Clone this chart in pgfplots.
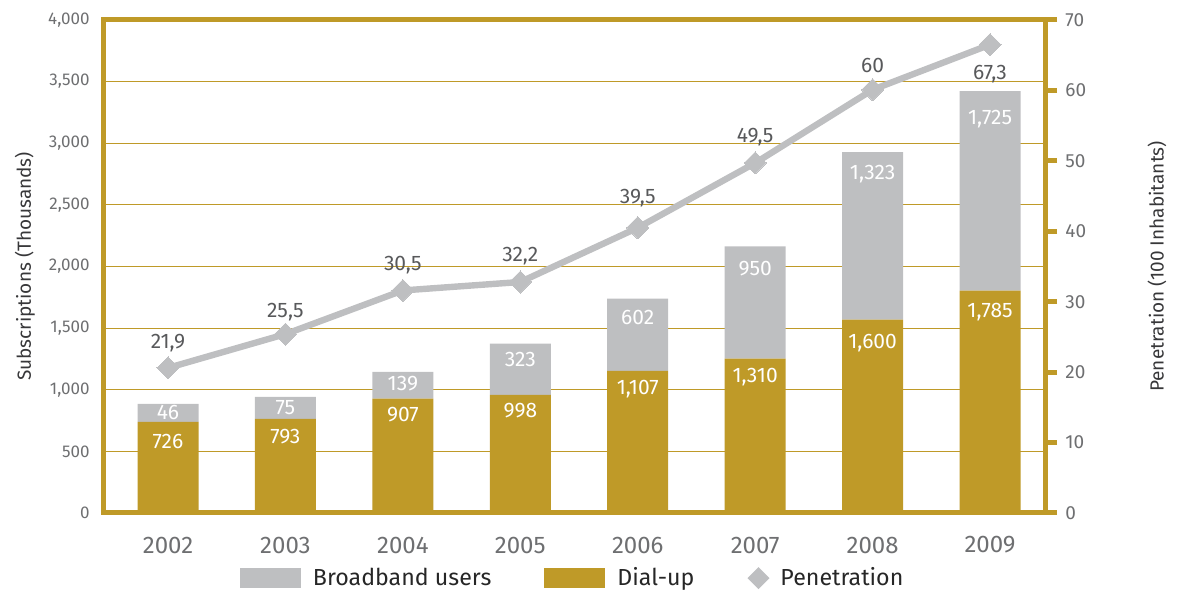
\documentclass[border=0pt]{standalone}
\usepackage{pgfplots}
\pgfplotsset{compat=1.18}
\usepackage{pgfplotstable}
\usepackage{fontspec}
\setmainfont{Fira Sans}
\definecolor{gold}{RGB}{191,154,40}
\definecolor{bbgray}{RGB}{190,191,193}
\definecolor{tickgray}{RGB}{110,111,113}
\definecolor{labgray}{RGB}{88,89,91}
\definecolor{titlegray}{RGB}{55,55,57}

\pgfplotstableread{
x dial bb dlab blab dy by
0 740 146 726 46 577 813
1 764 179 793 75 618 854
2 927 219 907 139 797 1049
3 959 415 998 323 829 1244
4 1154 586 1,107 602 1008 1585
5 1252 911 1,310 950 1106 1984
6 1569 1358 1,600 1,323 1382 2748
7 1805 1618 1,785 1,725 1626 3195
}\bars

\pgfplotstableread{
x pen plab ly
0 20.6 21,9 24.1
1 25.4 25,5 28.5
2 31.6 30,5 35.2
3 32.8 32,2 36.5
4 40.5 39,5 44.7
5 49.7 49,5 53.4
6 60.1 60 63.6
7 66.5 67,3 62.3
}\pen

\pgfplotsset{
  base/.style={
    width=470.5pt, height=246.5pt, scale only axis,
    xmin=-0.545, xmax=7.468,
    /pgf/number format/assume math mode=true,
    /pgf/number format/1000 sep={,},
  }
}

\begin{document}
\begin{tikzpicture}
\path[use as bounding box] (-52pt,-40pt) rectangle (539pt,256.5pt);

% ---- bars, grid, frame ----
\begin{axis}[base, at={(0,0)}, anchor=south west,
  ymin=0, ymax=4000,
  ytick={0,500,...,4000},
  xtick={0,...,7},
  xticklabels={2002,2003,2004,2005,2006,2007,2008,2009},
  ybar stacked, bar width=30.5pt,
  axis line style={gold, line width=2.5pt},
  tick style={draw=none},
  ymajorgrids, grid style={gold, line width=0.6pt},
  yticklabel style={font=\fontsize{8.5}{10}\selectfont, text=tickgray, anchor=east, inner sep=0pt, xshift=-7pt},
  xticklabel style={font=\fontsize{12}{14}\selectfont, text=tickgray, anchor=center, inner sep=0pt, yshift=-16pt},
  ylabel={Subscriptions (Thousands)},
  ylabel style={at={(axis description cs:-0.084,0.5)}, anchor=center, font=\fontsize{9.5}{11}\selectfont, text=titlegray},
  legend columns=3,
  legend style={at={(axis description cs:0.497,-0.132)}, anchor=center, draw=none, fill=none,
    font=\fontsize{11.6}{13}\selectfont, text=black!85,
    inner sep=0pt, column sep=0pt,
    nodes={inner sep=0pt},
    /tikz/every even column/.append style={column sep=26.5pt}},
]
\addplot[fill=gold, draw=none, forget plot] table[x=x, y=dial] {\bars};
\addplot[fill=bbgray, draw=none, forget plot] table[x=x, y=bb] {\bars};
\addlegendimage{legend image code/.code={\fill[bbgray, draw=none] (0pt,-5pt) rectangle (30.5pt,5pt); \path[draw=none, fill=none] (0pt,0pt) -- (36.5pt,0pt);}}
\addlegendentry{Broadband users}
\addlegendimage{legend image code/.code={\fill[gold, draw=none] (0pt,-5pt) rectangle (30.5pt,5pt); \path[draw=none, fill=none] (0pt,0pt) -- (36.5pt,0pt);}}
\addlegendentry{Dial-up}
\addlegendimage{legend image code/.code={\fill[bbgray, draw=none, rotate=45] (-3.9pt,-3.9pt) rectangle (3.9pt,3.9pt); \path[draw=none, fill=none] (-5.5pt,0pt) -- (11pt,0pt);}}
\addlegendentry{Penetration}
\end{axis}

% ---- right axis: penetration ----
\begin{axis}[base, at={(0,0)}, anchor=south west,
  ymin=0, ymax=70, ytick={0,10,...,70},
  axis y line*=right, axis x line=none,
  axis line style={gold, line width=2.5pt},
  tick align=outside, major tick length=6pt,
  tick style={gold, line width=2.5pt},
  yticklabel style={font=\fontsize{9.5}{11}\selectfont, text=tickgray, anchor=west, inner sep=0pt, xshift=4pt},
  ylabel={Penetration (100 Inhabitants)},
  ylabel style={at={(axis description cs:1.119,0.5)}, anchor=center, font=\fontsize{9.5}{11}\selectfont, text=titlegray},
]
\addplot[color=bbgray, line width=3.2pt, mark=square*, mark size=3.9pt,
  mark options={rotate=45, fill=bbgray, draw=bbgray, line width=0pt}] table[x=x, y=pen] {\pen};
\addplot[draw=none, nodes near coords, point meta=explicit symbolic,
  every node near coord/.append style={anchor=center, inner sep=0pt, font=\fontsize{10.5}{12}\selectfont, text=labgray}]
  table[x=x, y=ly, meta=plab] {\pen};
\end{axis}

% ---- bar value labels ----
\begin{axis}[base, at={(0,0)}, anchor=south west, hide axis, ymin=0, ymax=4000]
\addplot[draw=none, nodes near coords, point meta=explicit symbolic,
  every node near coord/.append style={anchor=center, inner sep=0pt, font=\fontsize{10.5}{12}\selectfont, text=white}]
  table[x=x, y=dy, meta=dlab] {\bars};
\addplot[draw=none, nodes near coords, point meta=explicit symbolic,
  every node near coord/.append style={anchor=center, inner sep=0pt, font=\fontsize{10.5}{12}\selectfont, text=white}]
  table[x=x, y=by, meta=blab] {\bars};
\end{axis}
\end{tikzpicture}
\end{document}
